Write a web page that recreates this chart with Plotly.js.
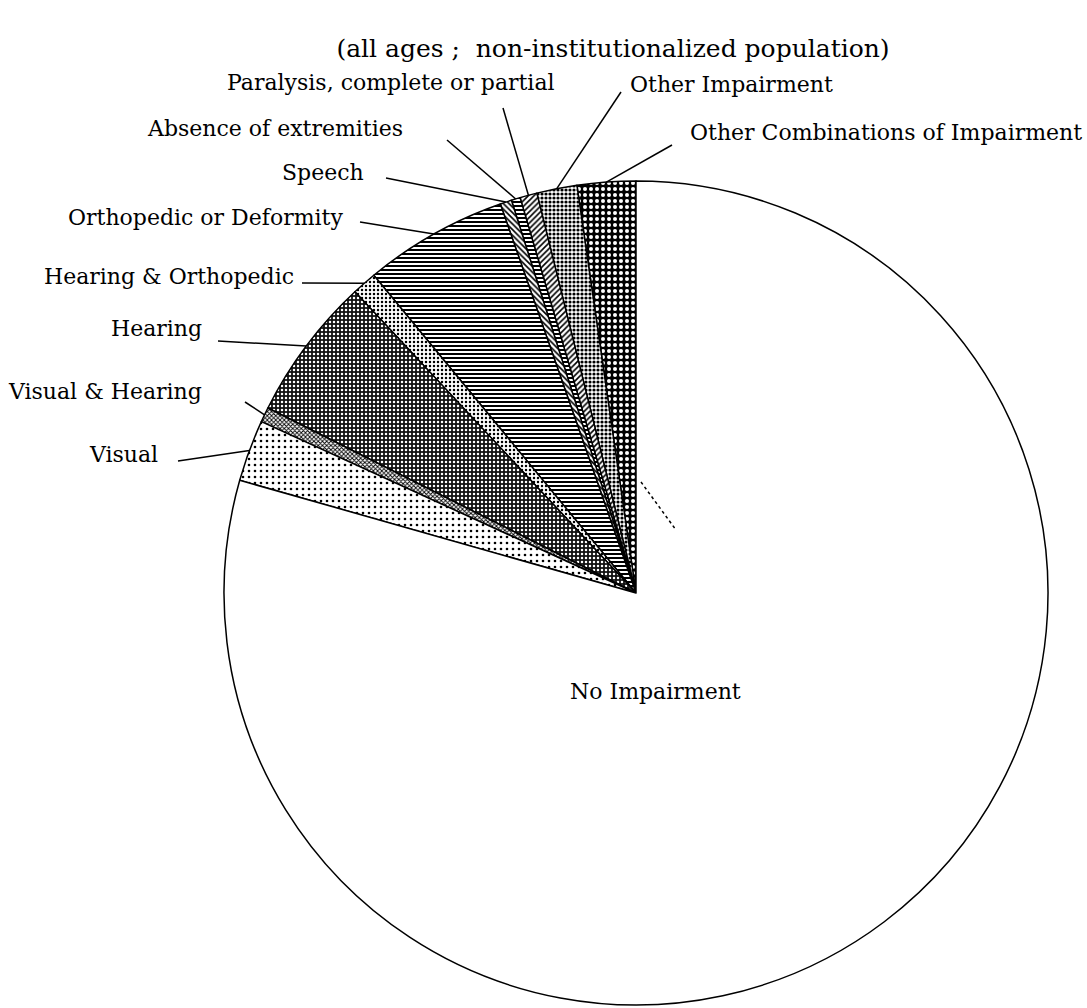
<!DOCTYPE html>
<html>
<head>
<meta charset="utf-8">
<script src="https://cdn.plot.ly/plotly-3.0.1.min.js"></script>
<style>html,body{margin:0;padding:0;background:#fff;}#chart{width:1087px;height:1008px;}</style>
</head>
<body>
<div id="chart"></div>
<script>
// ---- data (percent of population) ----
const categories = [
  "Other Combinations of Impairment",
  "Other Impairment",
  "Paralysis, complete or partial",
  "Absence of extremities",
  "Speech",
  "Orthopedic or Deformity",
  "Hearing & Orthopedic",
  "Hearing",
  "Visual & Hearing",
  "Visual",
  "No Impairment"
];
const shares = [2.29, 1.58, 0.67, 0.35, 0.45, 5.64, 0.97, 5.64, 0.58, 2.42, 79.41];
const subtitle = "(all ages ;  non-institutionalized population)";

// ---- styling ----
const W = 1087, H = 1008;
const CX = 636, CY = 593, R = 412;
const patShape  = [".", ".", "/", "-", "\\", "-", ".", ".", "x", ".", ""];
const patFg     = ["#fff", "#000", "#000", "#000", "#000", "#000", "#000", "#fff", "#000", "#000", "#000"];
const patBg     = ["#000", "#fff", "#fff", "#fff", "#fff", "#fff", "#fff", "#111", "#fff", "#fff", "#fff"];
const patSize   = [6, 4, 4, 4, 4, 4, 4, 4, 3, 6, 8];
const patSolid  = [0.35, 0.5, 0.4, 0.5, 0.4, 0.5, 0.3, 0.3, 0.5, 0.15, 0.1];

// label text anchor (pixel, left/right edge + middle) and leader tail
const labelPos = [
  {x: 688, y: 133, anchor: "left",  tx: 672, ty: 145},
  {x: 628, y: 84,  anchor: "left",  tx: 621, ty: 92},
  {x: 557, y: 82,  anchor: "right", tx: 503, ty: 108},
  {x: 405, y: 128, anchor: "right", tx: 447, ty: 140},
  {x: 366, y: 172, anchor: "right", tx: 386, ty: 178},
  {x: 345, y: 217, anchor: "right", tx: 360, ty: 222},
  {x: 296, y: 276, anchor: "right", tx: 302, ty: 283},
  {x: 204, y: 329, anchor: "right", tx: 218, ty: 341},
  {x: 204, y: 392, anchor: "right", tx: 245, ty: 402},
  {x: 160, y: 455, anchor: "right", tx: 178, ty: 461},
  null
];

const px = x => x / W;
const py = y => 1 - y / H;
const FONT = {family: "DejaVu Serif, Liberation Serif, serif", size: 22, color: "#000"};

const total = shares.reduce((a, b) => a + b, 0);
const annotations = [];
const shapes = [];
let cum = 0;
shares.forEach((v, i) => {
  const mid = 2 * Math.PI * (cum + v / 2) / total;
  cum += v;
  const lp = labelPos[i];
  if (!lp) return;
  const tipX = CX - R * Math.sin(mid);
  const tipY = CY - R * Math.cos(mid);
  annotations.push({
    text: categories[i], x: px(lp.x), y: py(lp.y), xref: "paper", yref: "paper",
    xanchor: lp.anchor, yanchor: "middle", showarrow: false, font: FONT
  });
  shapes.push({
    type: "line", xref: "paper", yref: "paper",
    x0: px(lp.tx), y0: py(lp.ty), x1: px(tipX), y1: py(tipY),
    line: {color: "#000", width: 1.5}
  });
});
annotations.push({
  text: categories[10], x: px(655), y: py(691), xref: "paper", yref: "paper",
  xanchor: "center", yanchor: "middle", showarrow: false, font: FONT
});
shapes.push({
  type: "line", xref: "paper", yref: "paper",
  x0: px(641), y0: py(482), x1: px(676), y1: py(530),
  line: {color: "#000", width: 1.5, dash: "dot"}
});

const trace = {
  type: "pie",
  labels: categories,
  values: shares,
  sort: false,
  direction: "counterclockwise",
  // Plotly ends the first counterclockwise slice at 12 o'clock; shift so it starts there
  rotation: -360 * shares[0] / total,
  textinfo: "none",
  hoverinfo: "label+percent",
  showlegend: false,
  domain: {x: [px(CX - R), px(CX + R)], y: [py(CY + R), py(CY - R)]},
  marker: {
    colors: patBg,
    line: {color: "#000", width: 1.5},
    pattern: {shape: patShape, fgcolor: patFg, bgcolor: patBg, size: patSize, solidity: patSolid, fillmode: "replace"}
  }
};

const layout = {
  width: W, height: H,
  margin: {l: 0, r: 0, t: 0, b: 0},
  paper_bgcolor: "#fff", plot_bgcolor: "#fff",
  title: {text: subtitle, x: px(613), y: py(48), xanchor: "center", yanchor: "middle", xref: "paper", yref: "paper", font: {family: FONT.family, size: 25, color: "#000"}},
  annotations: annotations,
  shapes: shapes,
  showlegend: false
};

Plotly.newPlot("chart", [trace], layout, {displayModeBar: false, staticPlot: true});
</script>
</body>
</html>
